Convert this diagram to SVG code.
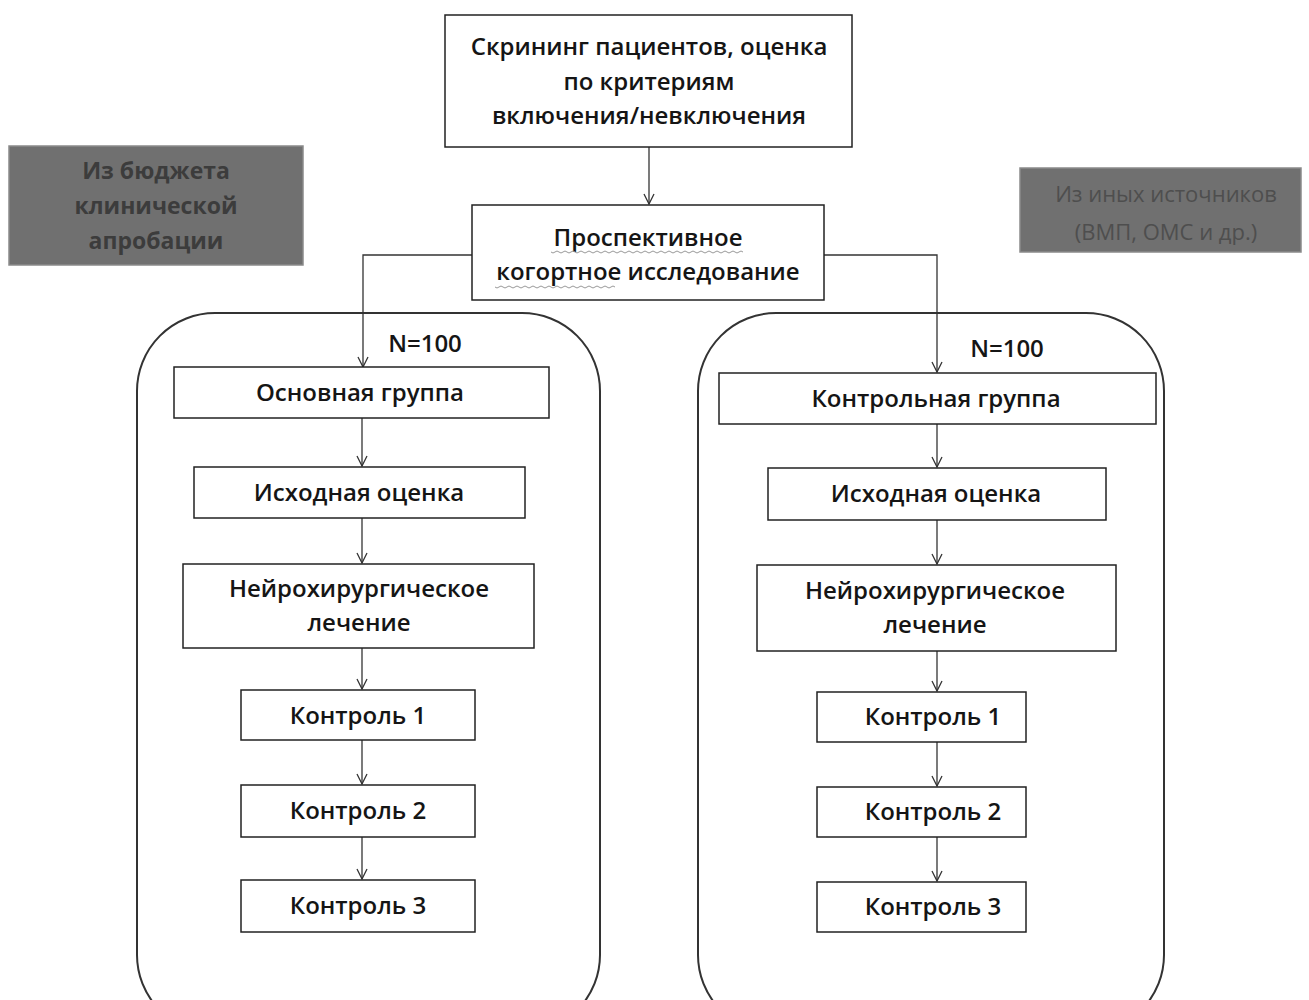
<svg xmlns="http://www.w3.org/2000/svg" width="1309" height="1000" viewBox="0 0 1309 1000">
<defs>
<marker id="arr" viewBox="0 0 12 12" refX="11" refY="6" markerWidth="12" markerHeight="12" markerUnits="userSpaceOnUse" orient="auto">
<path d="M1,1 L11,6 L1,11" fill="none" stroke="#333" stroke-width="1.3"/>
</marker>
<style>
.box{fill:#fff;stroke:#222;stroke-width:1.5}
.cont{fill:none;stroke:#333;stroke-width:2}
.t{font-family:"Open Sans","Liberation Sans",sans-serif;font-size:24px;font-weight:600;fill:#151515;text-anchor:middle}
.gray{fill:#707070;stroke:#8a8a8a;stroke-width:1.5}
.gt{font-family:"Open Sans","Liberation Sans",sans-serif;font-size:23px;font-weight:bold;fill:#3c3c3c;text-anchor:middle}
.gt2{font-family:"Open Sans","Liberation Sans",sans-serif;font-size:22px;fill:#4e4e4e;text-anchor:middle}
.c{fill:none;stroke:#333;stroke-width:1.3}
.w{fill:none;stroke:#999;stroke-width:1}
</style>
</defs>
<rect width="1309" height="1000" fill="#fff"/>

<g id="containers">
<rect class="cont" x="137" y="313" width="463" height="720" rx="78"/>
<rect class="cont" x="698" y="313" width="466" height="720" rx="78"/>
</g>

<g id="connectors">
<line class="c" x1="649" y1="147" x2="649" y2="204" marker-end="url(#arr)"/>
<polyline class="c" points="472,255 363,255 363,367" marker-end="url(#arr)"/>
<polyline class="c" points="824,255 937,255 937,372" marker-end="url(#arr)"/>
<line class="c" x1="362" y1="418" x2="362" y2="466" marker-end="url(#arr)"/>
<line class="c" x1="362" y1="518" x2="362" y2="563" marker-end="url(#arr)"/>
<line class="c" x1="362" y1="648" x2="362" y2="689" marker-end="url(#arr)"/>
<line class="c" x1="362" y1="740" x2="362" y2="784" marker-end="url(#arr)"/>
<line class="c" x1="362" y1="837" x2="362" y2="879" marker-end="url(#arr)"/>
<line class="c" x1="937" y1="424" x2="937" y2="467" marker-end="url(#arr)"/>
<line class="c" x1="937" y1="520" x2="937" y2="564" marker-end="url(#arr)"/>
<line class="c" x1="937" y1="651" x2="937" y2="691" marker-end="url(#arr)"/>
<line class="c" x1="937" y1="742" x2="937" y2="786" marker-end="url(#arr)"/>
<line class="c" x1="937" y1="837" x2="937" y2="881" marker-end="url(#arr)"/>
</g>

<g id="screening">
<rect class="box" x="445" y="15" width="407" height="132"/>
<text class="t" x="649" y="55">Скрининг пациентов, оценка</text>
<text class="t" x="649" y="90">по критериям</text>
<text class="t" x="649" y="124">включения/невключения</text>
</g>

<g id="cohort">
<rect class="box" x="472" y="205" width="352" height="95"/>
<text class="t" x="648" y="246">Проспективное</text>
<text class="t" x="648" y="280">когортное исследование</text>
<path class="w" d="M551,252 q2,2 4,0 t4,0 t4,0 t4,0 t4,0 t4,0 t4,0 t4,0 t4,0 t4,0 t4,0 t4,0 t4,0 t4,0 t4,0 t4,0 t4,0 t4,0 t4,0 t4,0 t4,0 t4,0 t4,0 t4,0 t4,0 t4,0 t4,0 t4,0 t4,0 t4,0 t4,0 t4,0 t4,0 t4,0 t4,0 t4,0 t4,0 t4,0 t4,0 t4,0 t4,0 t4,0 t4,0 t4,0 t4,0 t4,0 t4,0 t4,0"/>
<path class="w" d="M495,287 q2,2 4,0 t4,0 t4,0 t4,0 t4,0 t4,0 t4,0 t4,0 t4,0 t4,0 t4,0 t4,0 t4,0 t4,0 t4,0 t4,0 t4,0 t4,0 t4,0 t4,0 t4,0 t4,0 t4,0 t4,0 t4,0 t4,0 t4,0 t4,0 t4,0 t4,0"/>
</g>

<g id="budget">
<rect class="gray" x="9" y="146" width="294" height="119"/>
<text class="gt" x="156" y="179">Из бюджета</text>
<text class="gt" x="156" y="214">клинической</text>
<text class="gt" x="156" y="249">апробации</text>
</g>

<g id="other">
<rect class="gray" x="1020" y="168" width="281" height="84"/>
<text class="gt2" x="1166" y="202">Из иных источников</text>
<text class="gt2" x="1166" y="240">(ВМП, ОМС и др.)</text>
</g>

<g id="n-left"><text class="t" x="425" y="352">N=100</text></g>
<g id="n-right"><text class="t" x="1007" y="357">N=100</text></g>

<g id="main-group">
<rect class="box" x="174" y="367" width="375" height="51"/>
<text class="t" x="360" y="401">Основная группа</text>
</g>
<g id="base-left">
<rect class="box" x="194" y="467" width="331" height="51"/>
<text class="t" x="359" y="501">Исходная оценка</text>
</g>
<g id="surg-left">
<rect class="box" x="183" y="564" width="351" height="84"/>
<text class="t" x="359" y="597">Нейрохирургическое</text>
<text class="t" x="359" y="631">лечение</text>
</g>
<g id="c1-left">
<rect class="box" x="241" y="690" width="234" height="50"/>
<text class="t" x="358" y="724">Контроль 1</text>
</g>
<g id="c2-left">
<rect class="box" x="241" y="785" width="234" height="52"/>
<text class="t" x="358" y="819">Контроль 2</text>
</g>
<g id="c3-left">
<rect class="box" x="241" y="880" width="234" height="52"/>
<text class="t" x="358" y="914">Контроль 3</text>
</g>

<g id="control-group">
<rect class="box" x="719" y="373" width="437" height="51"/>
<text class="t" x="936" y="407">Контрольная группа</text>
</g>
<g id="base-right">
<rect class="box" x="768" y="468" width="338" height="52"/>
<text class="t" x="936" y="502">Исходная оценка</text>
</g>
<g id="surg-right">
<rect class="box" x="757" y="565" width="359" height="86"/>
<text class="t" x="935" y="599">Нейрохирургическое</text>
<text class="t" x="935" y="633">лечение</text>
</g>
<g id="c1-right">
<rect class="box" x="817" y="692" width="209" height="50"/>
<text class="t" x="933" y="725">Контроль 1</text>
</g>
<g id="c2-right">
<rect class="box" x="817" y="787" width="209" height="50"/>
<text class="t" x="933" y="820">Контроль 2</text>
</g>
<g id="c3-right">
<rect class="box" x="817" y="882" width="209" height="50"/>
<text class="t" x="933" y="915">Контроль 3</text>
</g>
</svg>
